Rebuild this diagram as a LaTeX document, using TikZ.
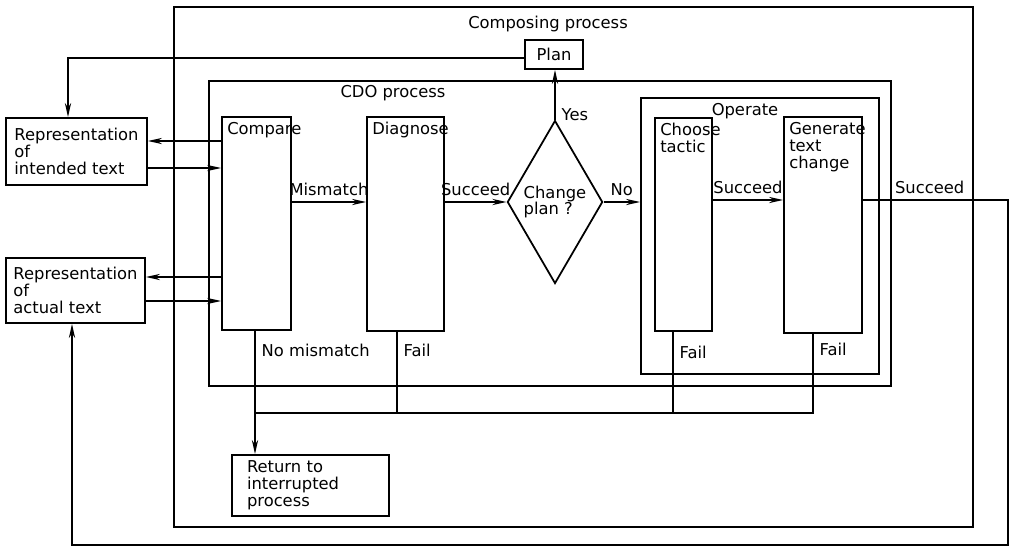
\documentclass[tikz,border=0pt]{standalone}
\usepackage{fontspec}
\setmainfont{DejaVu Sans}
\usetikzlibrary{positioning, shapes.geometric, arrows.meta}

\begin{document}
\begin{tikzpicture}[x=0.2mm, y=-0.2mm, line width=1pt,
    every node/.style={font=\fontsize{9.3}{9.6}\selectfont},
    box/.style 2 args={draw, inner sep=0pt, minimum width=#1*0.2mm, minimum height=#2*0.2mm},
    lbl/.style={anchor=north west, align=left, inner sep=3pt},
    arr/.style={-{Stealth[length=8pt, width=3.5pt]}}]
  \useasboundingbox (0,0) rectangle (1014,547);

  % frames
  \node[box={799}{520}] (comp) at (573.5,267) {};
  \node[box={682}{305}] (cdo) at (550,233.5) {};
  \node[box={238}{276}] (oper) at (760,236) {};
  \node (lComp) at (548,24) {Composing process};
  \node (lCdo) at (393,93) {CDO process};
  \node (lOper) at (745,111) {Operate};

  % boxes
  \node[box={58}{29}] (plan) at (554,54.5) {Plan};
  \node[box={141}{67}, align=left] (repI) at (76.5,151.5) {Representation\\of\\intended text};
  \node[box={139}{65}, align=left] (repA) at (75.5,290.5) {Representation\\of\\actual text};
  \node[box={157}{61}, align=left, text width=127*0.2mm] (ret) at (310.5,485.5)
    {Return to\\interrupted\\process};
  \foreach \name/\cx/\cy/\w/\h/\txt in {
      cmpr/256.5/223.5/69/213/Compare,
      diag/405.5/224/77/214/Diagnose,
      choose/683.5/224.5/57/213/Choose\\tactic,
      gen/823/225/78/216/Generate\\text\\change
    }{
      \node[box={\w}{\h}] (\name) at (\cx,\cy) {};
      \node[lbl] (\name-t) at (\name.north west) {\txt};
    }
  \node[draw, diamond, inner sep=0pt, minimum width=19mm, minimum height=32.6mm,
    align=left] (dia) at (555,202) {Change\\plan ?};

  % connectors
  \draw[arr] (plan.west |- 0,58) -| (repI.north -| 68,0);
  \draw[arr] (cmpr.west |- 0,141) -- (repI.east |- 0,141);
  \draw[arr] (repI.east |- 0,168) -- (cmpr.west |- 0,168);
  \draw[arr] (cmpr.west |- 0,277) -- (repA.east |- 0,277);
  \draw[arr] (repA.east |- 0,301) -- (cmpr.west |- 0,301);
  \draw[arr] (cmpr.east |- dia.west) -- node[above] (lMis) {Mismatch} (diag.west |- dia.west);
  \draw[arr] (diag.east |- dia.west) -- node[above] (lSuc1) {Succeed} (dia.west);
  \draw[arr] (dia.east) -- node[above] (lNo) {No} (oper.west |- dia.east);
  \draw[arr] (dia.north) -- node[right, pos=0.1] (lYes) {Yes} (plan.south -| dia.north);
  \draw[arr] (choose.east |- 0,200) -- node[above] (lSuc2) {Succeed} (gen.west |- 0,200);
  \draw[arr] (gen.east |- 0,200) -| node[above, pos=0.23] (lSuc3) {Succeed} (1008,545)
    -| (repA.south -| 72,0);

  \draw[arr] (cmpr.south -| 255,0) -- node[right, pos=0.16] (lNoMis) {No mismatch}
    (ret.north -| 255,0);
  \draw (diag.south -| 397,0) -- node[right, pos=0.23] (lF1) {Fail} (397,413);
  \draw (choose.south -| 673,0) -- node[right, pos=0.25] (lF2) {Fail} (673,413);
  \draw (gen.south -| 813,0) -- node[right, pos=0.2] (lF3) {Fail} (813,413) -- (255,413);
\end{tikzpicture}
\end{document}
